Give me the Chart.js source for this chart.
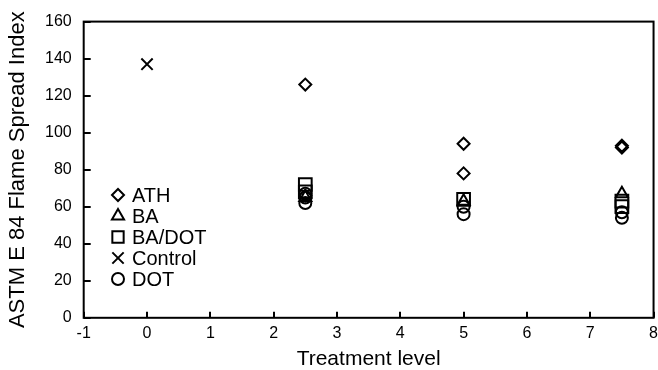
<!DOCTYPE html>
<html>
<head>
<meta charset="utf-8">
<script src="https://cdn.jsdelivr.net/npm/chart.js@4"></script>
<style>
  html, body { margin: 0; padding: 0; background: #fff; }
  #wrap { width: 658px; height: 370px; }
</style>
</head>
<body>
<div id="wrap"><canvas id="chart" width="658" height="370"></canvas></div>
<script>
// Flame spread index vs. treatment level, per fire retardant
const seriesNames = ["ATH", "BA", "BA/DOT", "Control", "DOT"];

const athX = [2.5, 2.5, 5, 5, 7.5, 7.5];
const athY = [126, 66, 94, 78, 93, 92];

const baX = [2.5, 5, 7.5];
const baY = [65, 63, 67];

const baDotX = [2.5, 2.5, 5, 7.5, 7.5];
const baDotY = [72, 68, 64, 63, 60];

const controlX = [0];
const controlY = [137];

const dotX = [2.5, 2.5, 2.5, 5, 5, 7.5, 7.5];
const dotY = [67, 65, 62, 60, 56, 57, 54];

const xTicks = [-1, 0, 1, 2, 3, 4, 5, 6, 7, 8];
const yTicks = [0, 20, 40, 60, 80, 100, 120, 140, 160];

const FONT = "'Liberation Sans', Arial, sans-serif";

const pts = (xs, ys) => xs.map((x, i) => ({ x, y: ys[i] }));

const styles = [
    { pointStyle: "rectRot", pointRadius: 6 },
    { pointStyle: "triangle", pointRadius: 7 },
    { pointStyle: "rect", pointRadius: 9 },
    { pointStyle: "crossRot", pointRadius: 8 },
    { pointStyle: "circle", pointRadius: 6 }
];

const allData = [
    pts(athX, athY),
    pts(baX, baY),
    pts(baDotX, baDotY),
    pts(controlX, controlY),
    pts(dotX, dotY)
];

const datasets = seriesNames.map((name, i) => ({
    label: name,
    data: allData[i],
    showLine: false,
    borderColor: "#000",
    backgroundColor: "rgba(0,0,0,0)",
    pointBorderWidth: 2,
    pointStyle: styles[i].pointStyle,
    pointRadius: styles[i].pointRadius,
    pointHoverRadius: styles[i].pointRadius
}));

// frame, inward ticks and the in-plot legend
const framePlugin = {
    id: "frame",
    afterDraw(chart) {
        const { ctx, chartArea: a, scales } = chart;
        ctx.save();
        ctx.strokeStyle = "#000";
        ctx.lineWidth = 2;
        ctx.strokeRect(a.left, a.top, a.right - a.left, a.bottom - a.top);

        ctx.beginPath();
        xTicks.forEach(v => {
            const px = Math.round(scales.x.getPixelForValue(v));
            ctx.moveTo(px, a.bottom);
            ctx.lineTo(px, a.bottom - 6);
        });
        yTicks.forEach(v => {
            const py = Math.round(scales.y.getPixelForValue(v));
            ctx.moveTo(a.left, py);
            ctx.lineTo(a.left + 7, py);
        });
        ctx.stroke();

        // legend
        ctx.font = "20px " + FONT;
        ctx.textBaseline = "middle";
        const lx = 118, ly0 = 195, step = 21;
        datasets.forEach((ds, i) => {
            const y = ly0 + i * step;
            ctx.fillStyle = "rgba(0,0,0,0)";
            ctx.strokeStyle = "#000";
            ctx.lineWidth = 2;
            Chart.helpers.drawPoint(ctx, {
                pointStyle: ds.pointStyle,
                radius: ds.pointStyle === "rect" ? 8 : ds.pointRadius,
                borderWidth: 2,
                rotation: 0
            }, lx, y);
            ctx.fillStyle = "#000";
            ctx.fillText(ds.label, lx + 14, y + 1);
        });
        ctx.restore();
    }
};

new Chart(document.getElementById("chart"), {
    type: "scatter",
    data: { datasets },
    options: {
        responsive: false,
        animation: false,
        layout: { autoPadding: false, padding: { left: 3, right: 0, top: 14, bottom: 0 } },
        plugins: {
            legend: { display: false },
            tooltip: { enabled: false }
        },
        scales: {
            x: {
                type: "linear",
                min: -1,
                max: 8,
                afterBuildTicks: s => { s.ticks = xTicks.map(v => ({ value: v })); },
                grid: {
                    display: true,
                    drawOnChartArea: false,
                    drawTicks: true,
                    tickLength: 6,
                    tickColor: "rgba(0,0,0,0)"
                },
                border: { display: false },
                ticks: {
                    color: "#000",
                    padding: 0,
                    font: { family: FONT, size: 16 }
                },
                title: {
                    display: true,
                    text: "Treatment level",
                    color: "#000",
                    padding: { top: 6, bottom: 0 },
                    font: { family: FONT, size: 21, lineHeight: 1 }
                }
            },
            y: {
                type: "linear",
                min: 0,
                max: 160,
                afterBuildTicks: s => { s.ticks = yTicks.map(v => ({ value: v })); },
                grid: { display: false, drawTicks: false },
                border: { display: false },
                ticks: {
                    color: "#000",
                    padding: 12,
                    font: { family: FONT, size: 16 }
                },
                title: {
                    display: true,
                    text: "ASTM E 84 Flame Spread Index",
                    color: "#000",
                    padding: { top: 4, bottom: 4 },
                    font: { family: FONT, size: 22, lineHeight: 1 }
                }
            }
        }
    },
    plugins: [framePlugin]
});
</script>
</body>
</html>
